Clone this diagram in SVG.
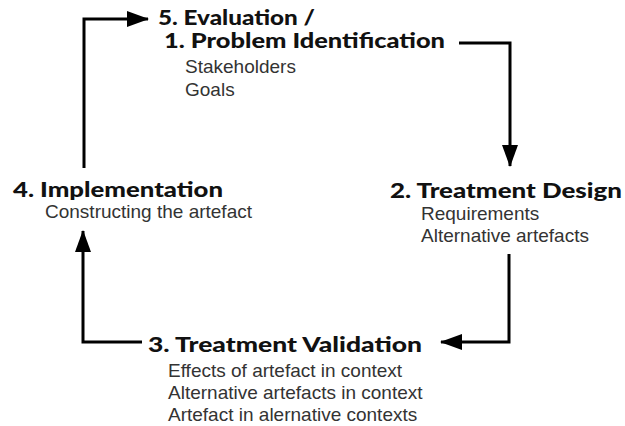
<svg xmlns="http://www.w3.org/2000/svg" width="625" height="426" viewBox="0 0 625 426">
<style>
.t{font-family:"Lato","Open Sans","DejaVu Sans",sans-serif;font-weight:900;font-size:20px;fill:#111}
.s{font-family:"Liberation Sans",Arial,sans-serif;font-size:19px;fill:#333}
.c{fill:none;stroke:#000;stroke-width:3;marker-end:url(#ah)}
</style>
<defs>
<marker id="ah" viewBox="0 0 22 16" refX="21" refY="8" markerWidth="22" markerHeight="16" markerUnits="userSpaceOnUse" orient="auto">
<path d="M0,0 L22,8 L0,16 z" fill="#000"/>
</marker>
</defs>
<rect width="625" height="426" fill="#fff"/>
<g id="connectors">
<path class="c" d="M459,43 H510 V166"/>
<path class="c" d="M509,254 V342 H441"/>
<path class="c" d="M142,342 H83 V231"/>
<path class="c" d="M84,168 V19 H148"/>
</g>
<g id="node-evaluation">
<text class="t" x="158" y="25" textLength="157" lengthAdjust="spacingAndGlyphs">5. Evaluation /</text>
<text class="t" x="164" y="48" textLength="281" lengthAdjust="spacingAndGlyphs">1. Problem Identification</text>
<text class="s" x="185" y="73">Stakeholders</text>
<text class="s" x="185" y="96">Goals</text>
</g>
<g id="node-design">
<text class="t" x="390" y="198" textLength="232" lengthAdjust="spacingAndGlyphs">2. Treatment Design</text>
<text class="s" x="421" y="220">Requirements</text>
<text class="s" x="421" y="242">Alternative artefacts</text>
</g>
<g id="node-validation">
<text class="t" x="148" y="352" textLength="274" lengthAdjust="spacingAndGlyphs">3. Treatment Validation</text>
<text class="s" x="168" y="377">Effects of artefact in context</text>
<text class="s" x="168" y="399">Alternative artefacts in context</text>
<text class="s" x="168" y="421">Artefact in alernative contexts</text>
</g>
<g id="node-implementation">
<text class="t" x="13" y="197" textLength="210" lengthAdjust="spacingAndGlyphs">4. Implementation</text>
<text class="s" x="45" y="218">Constructing the artefact</text>
</g>
</svg>
